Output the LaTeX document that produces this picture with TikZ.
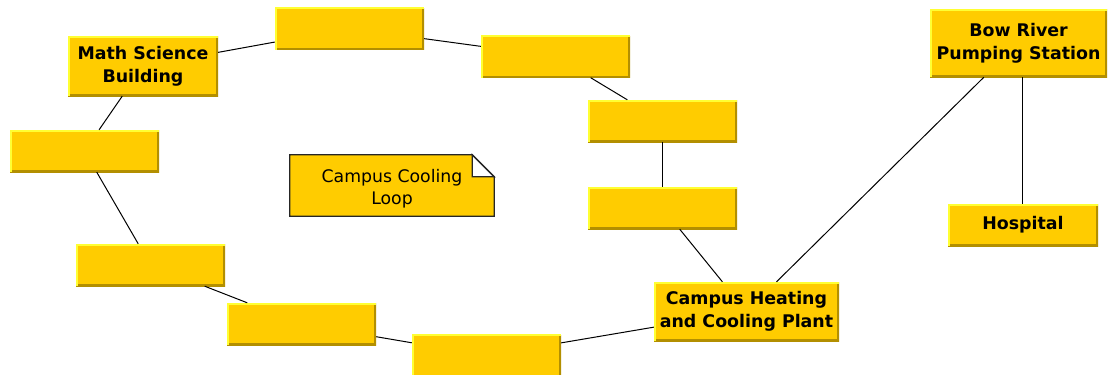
\documentclass[tikz,border=0pt]{standalone}
\usepackage{fontspec}
\setmainfont{DejaVu Sans}
\definecolor{boxfill}{HTML}{FFCC00}
\definecolor{boxlight}{HTML}{FFFF33}
\definecolor{boxdark}{HTML}{B38F00}

\begin{document}
\begin{tikzpicture}[x=1pt, y=-1pt,
  box/.style={rectangle, fill=boxfill, inner sep=0pt, minimum width=149pt, minimum height=42pt,
    align=center, font=\bfseries\fontsize{17.4}{23}\selectfont,
    path picture={
      \draw[boxdark, line width=4pt] (path picture bounding box.south west) -| (path picture bounding box.north east);
      \draw[boxlight, line width=3pt] (path picture bounding box.south west) |- (path picture bounding box.north east);}},
  notetext/.style={rectangle, inner sep=0pt, minimum width=204pt, minimum height=61pt,
    align=center, font=\fontsize{17.3}{22}\selectfont},
  noteline/.style={draw=black!85, line width=1.3pt},
  link/.style={black, line width=1pt}]
\useasboundingbox (0,0) rectangle (1109,375);

\node[box, minimum width=150pt, minimum height=60pt] (msb) at (143,66) {Math Science\\Building};
\node[box] (t1) at (349.5,28.5) {};
\node[box] (t2) at (555.5,56.5) {};
\node[box] (r1) at (662.5,121) {};
\node[box] (r2) at (662.5,208) {};
\node[box, minimum width=185pt, minimum height=59pt] (plant) at (746.5,311.5) {Campus Heating\\and Cooling Plant};
\node[box] (b1) at (486.5,355.5) {};
\node[box] (b2) at (301.5,324) {};
\node[box] (l2) at (150.5,265) {};
\node[box] (l1) at (84.5,151) {};
\node[box, minimum width=177pt, minimum height=68pt] (bow) at (1018.5,43) {Bow River\\Pumping Station};
\node[box, minimum width=150pt] (hosp) at (1023,225) {Hospital};

\node[notetext] (note) at (392,185.5) {};
\draw[noteline, fill=boxfill] (note.north west) -- ([xshift=-22pt]note.north east) -- ([yshift=-22pt]note.north east) |- (note.south west) -- cycle;
\draw[noteline, fill=white] ([xshift=-22pt]note.north east) |- ([yshift=-22pt]note.north east) -- cycle;
\node[notetext] (notelabel) at ([yshift=-3pt]note.center) {Campus Cooling\\Loop};

\draw[link] (msb) -- (t1);
\draw[link] (t1) -- (t2);
\draw[link] (t2) -- (r1);
\draw[link] (r1) -- (r2);
\draw[link] (r2) -- (plant);
\draw[link] (plant) -- (b1);
\draw[link] (b1) -- (b2);
\draw[link] (b2) -- (l2);
\draw[link] (l2) -- (l1);
\draw[link] (l1) -- (msb);
\draw[link] (plant) -- (bow);
\draw[link] ([xshift=-1pt]hosp.north) -- ([xshift=-1pt]hosp.north |- bow.south);
\end{tikzpicture}
\end{document}
